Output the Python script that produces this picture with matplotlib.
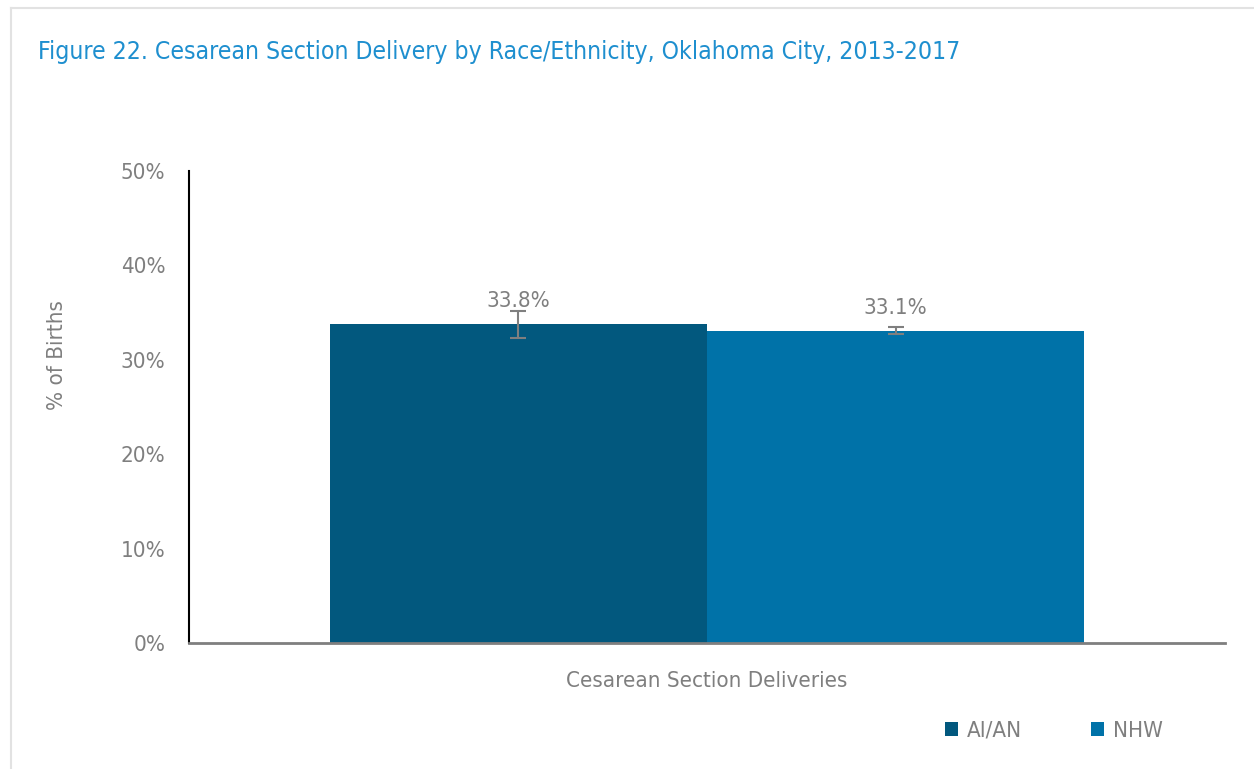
import matplotlib.pyplot as plt
from matplotlib.ticker import FuncFormatter

groups = ["AI/AN", "NHW"]
values = [33.8, 33.1]
err_low = [1.5, 0.4]
err_high = [1.4, 0.4]
category = "Cesarean Section Deliveries"
yticks = [0, 10, 20, 30, 40, 50]
colors = ["#02587e", "#0072a8"]

plt.rcParams['font.family'] = ['DejaVu Sans']
plt.rcParams['font.stretch'] = 'condensed'
gray = "#7f7f7f"

fig = plt.figure(figsize=(12.54, 7.69), dpi=100)
# light frame, only left and top edges show in the crop
fig.add_artist(plt.Line2D([11 / 1254, 11 / 1254], [0, 1 - 8 / 769], transform=fig.transFigure,
                          color="#e2e2e2", linewidth=1.5))
fig.add_artist(plt.Line2D([11 / 1254, 1.01], [1 - 8 / 769, 1 - 8 / 769], transform=fig.transFigure,
                          color="#e2e2e2", linewidth=1.5))
ax = fig.add_axes([189 / 1254, 1 - 643 / 769, 1036 / 1254, 472 / 769])

width = 0.364
offsets = [-width / 2, width / 2]
for i in range(len(groups)):
    ax.bar(offsets[i], values[i], width=width, color=colors[i], label=groups[i],
           yerr=[[err_low[i]], [err_high[i]]], capsize=6,
           error_kw=dict(ecolor=gray, elinewidth=1.5, capthick=1.5))
    ax.annotate(f"{values[i]:.1f}%", (offsets[i], values[i]),
                xytext=(0, 9), textcoords="offset points", ha="center", va="bottom",
                fontsize=16, color=gray)

ax.set_xlim(-0.5, 0.5)
ax.set_ylim(0, 50)
ax.set_yticks(yticks)
ax.yaxis.set_major_formatter(FuncFormatter(lambda v, p: f"{v:.0f}%"))
ax.set_xticks([0])
ax.set_xticklabels([category])
ax.tick_params(axis="y", length=0, pad=17, labelsize=16, labelcolor=gray)
ax.tick_params(axis="x", length=0, pad=20, labelsize=16, labelcolor=gray)
ax.spines["top"].set_visible(False)
ax.spines["right"].set_visible(False)
ax.spines["left"].set_color("black")
ax.spines["left"].set_linewidth(1.5)
ax.spines["bottom"].set_color("#7f7f7f")
ax.spines["bottom"].set_linewidth(2)

fig.text(57 / 1254, 1 - 355 / 769, "% of Births", rotation=90, ha="center", va="center",
         fontsize=16, color=gray)
fig.text(38 / 1254, 1 - 52 / 769, "Figure 22. Cesarean Section Delivery by Race/Ethnicity, Oklahoma City, 2013-2017",
         ha="left", va="center", fontsize=17.7, color="#1e8fcf")

ax.legend(loc="center", bbox_to_anchor=(1054 / 1254, 1 - 731 / 769), bbox_transform=fig.transFigure,
          ncol=2, frameon=False, fontsize=16, labelcolor=gray, handlelength=0.6, handleheight=0.6,
          handletextpad=0.4, columnspacing=3.1)

fig.savefig("out.png", dpi=100)
